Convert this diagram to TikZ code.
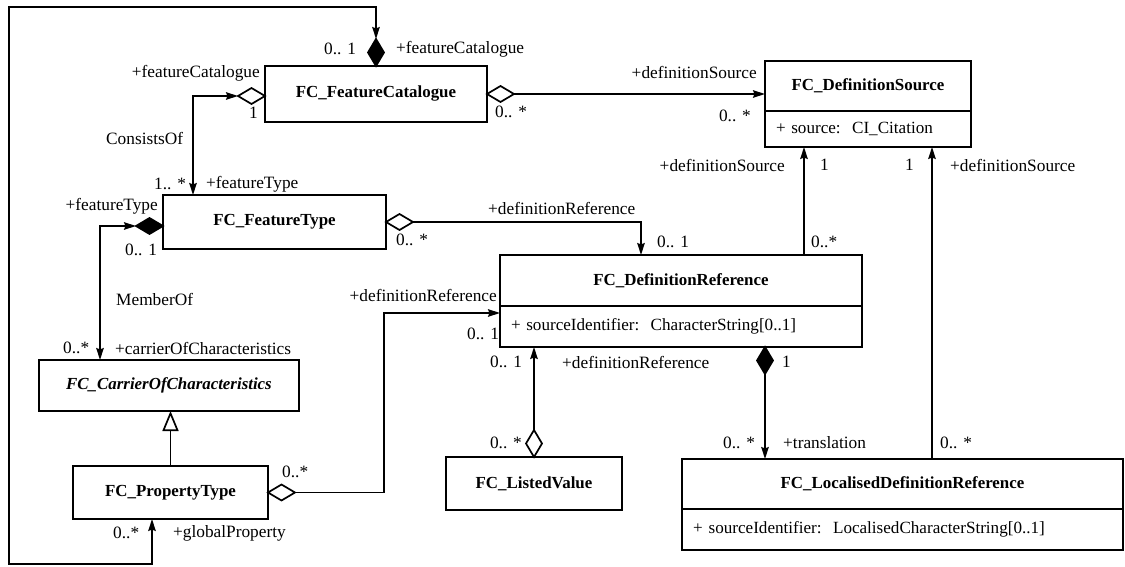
\documentclass[tikz,border=0pt]{standalone}
\usepackage{fontspec}
\setmainfont{Liberation Serif}
\usetikzlibrary{arrows.meta,shapes.geometric}
\begin{document}
\begin{tikzpicture}[x=1pt,y=-1pt,
  lw/.style={line width=1.7pt},
  cls/.style={draw, lw, inner sep=0pt, outer sep=0pt, font=\fontsize{16.9}{19}\selectfont\bfseries},
  attrbox/.style={draw, lw, inner xsep=11pt, inner ysep=0pt, outer sep=0pt, align=left, font=\fontsize{17.1}{19}\selectfont},
  lbl/.style={inner sep=0pt, anchor=west, font=\fontsize{17.3}{19}\selectfont},
  lble/.style={lbl, anchor=east},
  con/.style={lw, -{Stealth[length=12pt,width=7.5pt,inset=1.5pt]}},
  bicon/.style={lw, {Stealth[length=12pt,width=7.5pt,inset=1.5pt]}-{Stealth[length=12pt,width=7.5pt,inset=1.5pt]}},
  odiah/.style={diamond, draw, lw, fill=white, inner sep=0pt, outer sep=0pt, minimum width=27pt, minimum height=16pt},
  fdiah/.style={odiah, fill=black},
  odiav/.style={diamond, draw, lw, fill=white, inner sep=0pt, outer sep=0pt, minimum width=16pt, minimum height=27pt},
  fdiav/.style={odiav, fill=black},
  gen/.style={lw, -{Triangle[open,length=20pt,width=16pt]}}
]
\useasboundingbox (0,0) rectangle (1125,567);

% classes
\node[cls, minimum width=222pt, minimum height=56pt] (fc) at (376,94) {FC\_FeatureCatalogue};
\node[cls, minimum width=206pt, minimum height=50pt] (ds) at (868,86) {FC\_DefinitionSource};
\node[attrbox, text width=184pt, minimum height=36pt, anchor=north] (dsa) at (ds.south) {+ source:\ \ CI\_Citation};
\node[cls, minimum width=223pt, minimum height=54pt] (ft) at (274.5,222) {FC\_FeatureType};
\node[cls, minimum width=362pt, minimum height=51pt] (dr) at (681,280.5) {FC\_DefinitionReference};
\node[attrbox, text width=340pt, minimum height=41pt, anchor=north] (dra) at (dr.south) {+ sourceIdentifier:\ \ CharacterString[0..1]};
\node[cls, minimum width=260pt, minimum height=51pt, font=\fontsize{16.9}{19}\selectfont\bfseries\itshape] (coc) at (169,385.5) {FC\_CarrierOfCharacteristics};
\node[cls, minimum width=195pt, minimum height=53pt] (pt) at (170.5,492.5) {FC\_PropertyType};
\node[cls, minimum width=176pt, minimum height=53pt] (lv) at (534,483.5) {FC\_ListedValue};
\node[cls, minimum width=441pt, minimum height=50pt] (ldr) at (902.5,484) {FC\_LocalisedDefinitionReference};
\node[attrbox, text width=419pt, minimum height=41pt, anchor=north] (ldra) at (ldr.south) {+\hspace{6pt}sourceIdentifier:\ \ LocalisedCharacterString[0..1]};

% diamonds
\node[fdiav, anchor=south] (fcd) at (fc.north) {};
\node[odiah, anchor=east] (fcld) at ([yshift=-2pt]fc.west) {};
\node[odiah, anchor=west] (fcrd) at (fc.east) {};
\node[fdiah, anchor=east] (ftld) at ([yshift=-4pt]ft.west) {};
\node[odiah, anchor=west] (ftrd) at (ft.east) {};
\node[odiah, anchor=west] (ptrd) at (pt.east) {};
\node[odiav, anchor=south] (lvd) at (lv.north) {};
\node[fdiav, anchor=north] (drd) at ([xshift=84pt]dra.south) {};

% coordinates
\coordinate (loopBL) at (9,564);
\coordinate (loopTL) at (9,7);
\coordinate (ptB) at ([xshift=-18.5pt]pt.south);
\coordinate (ftT) at ([xshift=-81.5pt]ft.north);
\coordinate (cocT) at ([xshift=-69pt]coc.north);
\coordinate (drT1) at ([xshift=-40pt]dr.north);
\coordinate (drT2) at ([xshift=123pt]dr.north);
\coordinate (ldrT) at ([xshift=29.5pt]ldr.north);
\coordinate (bendPT) at (384,313);

% connectors
\draw[bicon] (ptB) |- (loopBL) -- (loopTL) -| (fcd.north);
\draw[bicon] (ftT) |- (fcld.west);
\draw[con] (fcrd.east) -- (fcrd.east -| ds.west);
\draw[bicon] (cocT) |- (ftld.west);
\draw[con] (ftrd.east) -| (drT1);
\draw[con] (ptrd.east) -| (bendPT) -- (bendPT -| dr.west);
\draw[con] (lvd.north) -- (lvd.north |- dra.south);
\draw[con] (drd.south) -- (drd.south |- ldr.north);
\draw[con] (drT2) -- (drT2 |- dsa.south);
\draw[con] (ldrT) -- (ldrT |- dsa.south);
\draw[gen] (pt.north) -- (pt.north |- coc.south);

% labels
\node[lbl] at (324,49) {0.. 1};
\node[lbl] at (396,49) {+featureCatalogue};
\node[lble] at (260,73) {+featureCatalogue};
\node[lbl] at (249,113) {1};
\node[lbl] at (495,112) {0.. *};
\node[lble] at (757,72) {+definitionSource};
\node[lble] at (751,116) {0.. *};
\node[lbl] at (106,138) {ConsistsOf};
\node[lbl] at (154,184) {1.. *};
\node[lbl] at (206,184) {+featureType};
\node[lble] at (158,206) {+featureType};
\node[lbl] at (125,250) {0.. 1};
\node[lbl] at (396,240) {0.. *};
\node[lbl] at (488,208) {+definitionReference};
\node[lbl] at (657,242) {0.. 1};
\node[lbl] at (811,242) {0..*};
\node[lble] at (785,165) {+definitionSource};
\node[lbl] at (820,165) {1};
\node[lbl] at (905,165) {1};
\node[lbl] at (950,165) {+definitionSource};
\node[lble] at (497,295) {+definitionReference};
\node[lbl] at (116,299) {MemberOf};
\node[lbl] at (467,334) {0.. 1};
\node[lbl] at (490,362) {0.. 1};
\node[lbl] at (562,362) {+definitionReference};
\node[lbl] at (782,362) {1};
\node[lbl] at (63,348) {0..*};
\node[lbl] at (115,348) {+carrierOfCharacteristics};
\node[lble] at (522,443) {0.. *};
\node[lbl] at (723,443) {0.. *};
\node[lbl] at (783,443) {+translation};
\node[lbl] at (940,443) {0.. *};
\node[lbl] at (282,472) {0..*};
\node[lbl] at (113,533) {0..*};
\node[lbl] at (173,533) {+globalProperty};
\end{tikzpicture}
\end{document}
